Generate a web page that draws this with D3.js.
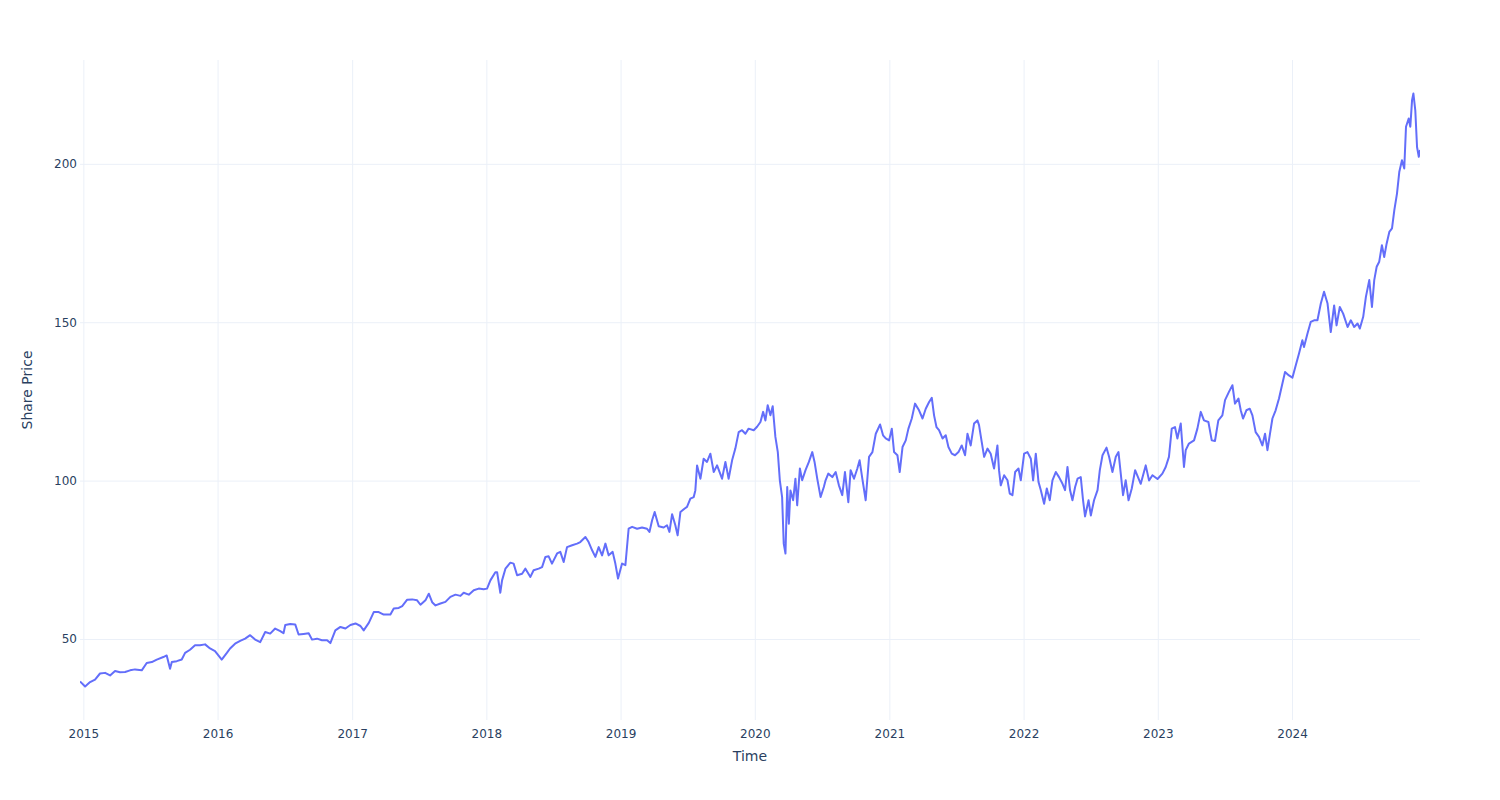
<!DOCTYPE html>
<html>
<head>
<meta charset="utf-8">
<script src="https://cdn.jsdelivr.net/npm/d3@7"></script>
<style>
  body { margin: 0; background: #ffffff; }
  svg { display: block; }
</style>
</head>
<body>
<svg id="chart" width="1500" height="800"></svg>
<script>
// ---- Data (time in decimal years, price) ----
const timeYears = [
  2014.975, 2015.013, 2015.050, 2015.087, 2015.124, 2015.162, 2015.199, 2015.236, 2015.273, 2015.311,
  2015.348, 2015.385, 2015.435, 2015.472, 2015.510, 2015.547, 2015.596, 2015.621, 2015.646, 2015.659,
  2015.696, 2015.733, 2015.758, 2015.795, 2015.832, 2015.869, 2015.907, 2015.944, 2015.981,
  2016.031, 2016.069, 2016.093, 2016.130, 2016.168, 2016.205, 2016.242, 2016.279, 2016.317, 2016.354,
  2016.391, 2016.428, 2016.466, 2016.490, 2016.503, 2016.540, 2016.577, 2016.602, 2016.639, 2016.677,
  2016.702, 2016.739, 2016.776, 2016.814, 2016.838, 2016.875, 2016.913, 2016.950, 2016.987,
  2017.025, 2017.062, 2017.086, 2017.124, 2017.161, 2017.198, 2017.235, 2017.285, 2017.310, 2017.347,
  2017.373, 2017.410, 2017.447, 2017.484, 2017.509, 2017.546, 2017.571, 2017.596, 2017.621, 2017.658,
  2017.695, 2017.732, 2017.770, 2017.807, 2017.831, 2017.869, 2017.906, 2017.943, 2017.980,
  2018.005, 2018.030, 2018.067, 2018.080, 2018.104, 2018.117, 2018.142, 2018.179, 2018.203, 2018.229,
  2018.266, 2018.291, 2018.328, 2018.352, 2018.390, 2018.415, 2018.440, 2018.464, 2018.489, 2018.527,
  2018.551, 2018.576, 2018.601, 2018.639, 2018.676, 2018.700, 2018.738, 2018.762, 2018.788, 2018.812,
  2018.837, 2018.862, 2018.887, 2018.911, 2018.941, 2018.961, 2018.981,
  2019.011, 2019.036, 2019.060, 2019.086, 2019.123, 2019.160, 2019.197, 2019.215, 2019.235, 2019.254,
  2019.284, 2019.321, 2019.346, 2019.364, 2019.384, 2019.408, 2019.425, 2019.446, 2019.478, 2019.495,
  2019.520, 2019.545, 2019.557, 2019.570, 2019.595, 2019.619, 2019.644, 2019.669, 2019.694, 2019.719,
  2019.756, 2019.781, 2019.805, 2019.831, 2019.855, 2019.880, 2019.905, 2019.930, 2019.954, 2019.992,
  2020.017, 2020.042, 2020.062, 2020.079, 2020.096, 2020.116, 2020.133, 2020.153, 2020.171, 2020.186,
  2020.203, 2020.215, 2020.228, 2020.241, 2020.253, 2020.265, 2020.285, 2020.302, 2020.315, 2020.335,
  2020.352, 2020.377, 2020.402, 2020.427, 2020.444, 2020.464, 2020.489, 2020.513, 2020.526, 2020.546,
  2020.576, 2020.601, 2020.625, 2020.650, 2020.670, 2020.695, 2020.712, 2020.737, 2020.762, 2020.779,
  2020.799, 2020.824, 2020.849, 2020.874, 2020.899, 2020.931, 2020.953, 2020.973, 2020.998,
  2021.018, 2021.035, 2021.060, 2021.077, 2021.098, 2021.122, 2021.142, 2021.167, 2021.191, 2021.221,
  2021.247, 2021.271, 2021.296, 2021.316, 2021.333, 2021.351, 2021.370, 2021.396, 2021.420, 2021.440,
  2021.465, 2021.489, 2021.515, 2021.539, 2021.564, 2021.582, 2021.606, 2021.631, 2021.656, 2021.668,
  2021.688, 2021.706, 2021.731, 2021.755, 2021.780, 2021.805, 2021.817, 2021.830, 2021.855, 2021.880,
  2021.897, 2021.917, 2021.937, 2021.962, 2021.979,
  2022.004, 2022.029, 2022.054, 2022.071, 2022.091, 2022.111, 2022.128, 2022.153, 2022.173, 2022.195,
  2022.215, 2022.240, 2022.264, 2022.290, 2022.309, 2022.327, 2022.346, 2022.364, 2022.384, 2022.402,
  2022.426, 2022.443, 2022.458, 2022.484, 2022.501, 2022.525, 2022.551, 2022.568, 2022.588, 2022.618,
  2022.637, 2022.662, 2022.687, 2022.707, 2022.724, 2022.741, 2022.761, 2022.782, 2022.806, 2022.831,
  2022.873, 2022.910, 2022.935, 2022.960, 2022.998,
  2023.034, 2023.059, 2023.083, 2023.104, 2023.128, 2023.146, 2023.171, 2023.195, 2023.208, 2023.232,
  2023.270, 2023.295, 2023.320, 2023.344, 2023.377, 2023.402, 2023.426, 2023.451, 2023.481, 2023.501,
  2023.530, 2023.556, 2023.575, 2023.601, 2023.618, 2023.635, 2023.660, 2023.685, 2023.705, 2023.729,
  2023.754, 2023.779, 2023.799, 2023.817, 2023.836, 2023.854, 2023.878, 2023.903, 2023.928, 2023.948,
  2023.977,
  2024.003, 2024.028, 2024.052, 2024.077, 2024.089, 2024.115, 2024.139, 2024.164, 2024.189, 2024.214,
  2024.238, 2024.264, 2024.288, 2024.313, 2024.331, 2024.355, 2024.380, 2024.413, 2024.437, 2024.462,
  2024.487, 2024.504, 2024.529, 2024.549, 2024.574, 2024.594, 2024.611, 2024.629, 2024.648, 2024.668,
  2024.685, 2024.703, 2024.723, 2024.743, 2024.760, 2024.780, 2024.797, 2024.817, 2024.834, 2024.847,
  2024.867, 2024.879, 2024.892, 2024.902, 2024.916, 2024.929, 2024.942, 2024.951
];

const sharePrice = [
  36.6, 35.0, 36.4, 37.2, 39.1, 39.3, 38.5, 39.9, 39.5, 39.6,
  40.1, 40.4, 40.1, 42.4, 42.7, 43.5, 44.3, 44.8, 40.6, 42.7,
  43.0, 43.5, 45.6, 46.6, 48.0, 48.0, 48.3, 47.0, 46.2,
  43.5, 45.6, 47.0, 48.5, 49.4, 50.1, 51.2, 49.8, 49.0, 52.2,
  51.7, 53.3, 52.5, 51.8, 54.4, 54.7, 54.6, 51.4, 51.6, 51.8,
  49.8, 50.1, 49.6, 49.6, 48.7, 52.7, 53.8, 53.3, 54.4,
  54.9, 54.1, 52.7, 55.1, 58.5, 58.5, 57.7, 57.7, 59.6, 59.8,
  60.4, 62.4, 62.5, 62.2, 60.8, 62.2, 64.3, 61.6, 60.6, 61.2,
  61.7, 63.3, 64.0, 63.6, 64.6, 64.0, 65.4, 65.9, 65.7,
  65.9, 68.5, 71.1, 71.1, 64.6, 68.5, 72.2, 74.1, 73.8, 70.1,
  70.6, 72.2, 69.6, 71.7, 72.2, 72.7, 75.9, 76.1, 73.8, 77.0,
  77.5, 74.3, 79.0, 79.6, 80.1, 80.6, 82.2, 80.6, 78.0, 75.9,
  79.0, 76.4, 80.1, 76.4, 77.5, 73.8, 69.1,
  73.8, 73.3, 84.8, 85.4, 84.8, 85.2, 84.8, 83.8, 87.5, 90.1,
  85.6, 85.2, 85.9, 83.8, 89.4, 85.9, 82.7, 90.1, 91.2, 91.7,
  94.3, 94.8, 96.9, 104.8, 100.6, 106.9, 105.9, 108.5, 102.7, 104.8,
  100.6, 105.9, 100.6, 106.4, 110.1, 115.3, 115.9, 114.8, 116.4, 115.9,
  117.0, 118.5, 121.7, 119.0, 123.8, 120.6, 123.5, 113.8, 109.0, 100.1,
  94.8, 80.1, 77.0, 98.0, 86.4, 96.9, 93.8, 100.6, 92.2, 103.8,
  100.1, 103.3, 105.9, 109.0, 105.9, 100.6, 94.8, 98.0, 100.1, 102.2,
  101.1, 102.7, 98.5, 95.4, 102.7, 93.2, 103.3, 100.6, 103.8, 106.4,
  100.6, 93.8, 107.5, 109.0, 114.8, 117.7, 114.3, 113.3, 112.7,
  116.4, 109.0, 108.0, 102.7, 110.6, 112.7, 116.4, 119.6, 124.3, 122.2,
  119.6, 122.7, 124.8, 126.1, 120.6, 116.9, 115.9, 113.3, 114.3, 110.6,
  108.5, 108.0, 109.0, 111.1, 108.0, 114.8, 111.1, 118.0, 119.0, 117.5,
  112.2, 107.5, 110.1, 108.5, 103.8, 111.1, 103.3, 98.5, 101.7, 100.1,
  95.9, 95.4, 102.7, 103.8, 100.1,
  108.5, 109.0, 106.9, 100.1, 108.5, 99.6, 97.0, 92.7, 97.5, 93.8,
  100.1, 102.7, 101.1, 99.0, 97.0, 104.3, 97.0, 93.8, 98.0, 100.6,
  101.1, 93.8, 88.7, 93.8, 89.0, 93.8, 97.0, 103.3, 108.0, 110.4,
  107.5, 102.7, 107.5, 109.0, 102.2, 95.4, 100.1, 93.8, 97.5, 103.3,
  99.0, 104.8, 100.0, 101.7, 100.5,
  102.2, 104.3, 107.5, 116.4, 116.9, 113.3, 118.0, 104.3, 109.6, 111.7,
  112.7, 116.4, 121.7, 119.0, 118.5, 112.7, 112.5, 119.0, 120.6, 125.4,
  128.0, 130.1, 124.3, 125.9, 122.2, 119.6, 122.2, 122.7, 120.6, 115.3,
  113.8, 111.1, 114.8, 109.6, 114.8, 119.6, 122.2, 125.9, 130.6, 134.3,
  133.2,
  132.5, 136.4, 140.1, 144.3, 142.2, 146.4, 150.1, 150.6, 150.6, 155.9,
  159.6, 155.9, 146.9, 155.3, 149.0, 154.8, 152.7, 148.5, 150.6, 148.5,
  149.6, 148.0, 151.7, 158.0, 163.3, 154.8, 163.3, 167.5, 169.1, 174.3,
  170.6, 174.8, 178.5, 179.6, 185.3, 190.6, 197.4, 201.1, 198.5, 211.7,
  214.3, 211.7, 220.1, 222.2, 216.9, 205.3, 202.2, 204.4
];

const yTickValues = [50, 100, 150, 200];
const xTickYears = [2015, 2016, 2017, 2018, 2019, 2020, 2021, 2022, 2023, 2024];
const xAxisTitle = "Time";
const yAxisTitle = "Share Price";

// ---- Helpers ----
function yearToDate(t) {
  const yr = Math.floor(t);
  const s = Date.UTC(yr, 0, 1), e = Date.UTC(yr + 1, 0, 1);
  return new Date(s + (t - yr) * (e - s));
}
const n = Math.min(timeYears.length, sharePrice.length);
const data = d3.range(n).map(i => ({ date: yearToDate(timeYears[i]), price: sharePrice[i] }));

// ---- Layout ----
const W = 1500, H = 800;
const margin = { left: 80, right: 80, top: 60, bottom: 80 };
const plotL = margin.left, plotR = W - margin.right, plotT = margin.top, plotB = H - margin.bottom;

const FONT = "'DejaVu Sans', Verdana, Arial, sans-serif";
const TEXT = "#2a3f5f";
const GRID = "#EBF0F8";
const LINE = "#636efa";

const x = d3.scaleUtc()
  .domain(d3.extent(data, d => d.date))
  .range([plotL, plotR]);

const [pMin, pMax] = d3.extent(data, d => d.price);
const pad = (pMax - pMin) * 0.0565;
const y = d3.scaleLinear()
  .domain([pMin - pad, pMax + pad])
  .range([plotB, plotT]);

const svg = d3.select("#chart");
svg.append("rect").attr("width", W).attr("height", H).attr("fill", "#ffffff");

// Grid lines via axes
const xTicks = xTickYears.map(yr => new Date(Date.UTC(yr, 0, 1)));

const xGrid = svg.append("g")
  .attr("transform", `translate(0,${plotB})`)
  .call(d3.axisBottom(x).tickValues(xTicks).tickSize(-(plotB - plotT)).tickFormat(""));
xGrid.select(".domain").remove();
xGrid.selectAll("line").attr("stroke", GRID).attr("stroke-width", 1);

const yGrid = svg.append("g")
  .attr("transform", `translate(${plotL},0)`)
  .call(d3.axisLeft(y).tickValues(yTickValues).tickSize(-(plotR - plotL)).tickFormat(""));
yGrid.select(".domain").remove();
yGrid.selectAll("line").attr("stroke", GRID).attr("stroke-width", 1);

// Tick labels via axes
const xAxis = svg.append("g")
  .attr("transform", `translate(0,${plotB})`)
  .call(d3.axisBottom(x).tickValues(xTicks).tickSize(0).tickPadding(9).tickFormat(d3.utcFormat("%Y")));
xAxis.select(".domain").remove();
xAxis.selectAll("text").attr("font-family", FONT).attr("font-size", 12).attr("fill", TEXT);

const yAxis = svg.append("g")
  .attr("transform", `translate(${plotL},0)`)
  .call(d3.axisLeft(y).tickValues(yTickValues).tickSize(0).tickPadding(3).tickFormat(d3.format("d")));
yAxis.select(".domain").remove();
yAxis.selectAll("text").attr("font-family", FONT).attr("font-size", 12).attr("fill", TEXT);

// Clip
svg.append("defs").append("clipPath").attr("id", "plotclip")
  .append("rect").attr("x", plotL).attr("y", plotT)
  .attr("width", plotR - plotL).attr("height", plotB - plotT);

// Line
const line = d3.line()
  .x(d => x(d.date))
  .y(d => y(d.price));

svg.append("path")
  .datum(data)
  .attr("clip-path", "url(#plotclip)")
  .attr("fill", "none")
  .attr("stroke", LINE)
  .attr("stroke-width", 2)
  .attr("stroke-linejoin", "round")
  .attr("d", line);

// Axis titles
svg.append("text")
  .attr("x", (plotL + plotR) / 2)
  .attr("y", 761)
  .attr("text-anchor", "middle")
  .attr("font-family", FONT)
  .attr("font-size", 14)
  .attr("fill", TEXT)
  .text(xAxisTitle);

svg.append("text")
  .attr("transform", `translate(31.5,${(plotT + plotB) / 2}) rotate(-90)`)
  .attr("text-anchor", "middle")
  .attr("font-family", FONT)
  .attr("font-size", 14)
  .attr("fill", TEXT)
  .text(yAxisTitle);
</script>
</body>
</html>
